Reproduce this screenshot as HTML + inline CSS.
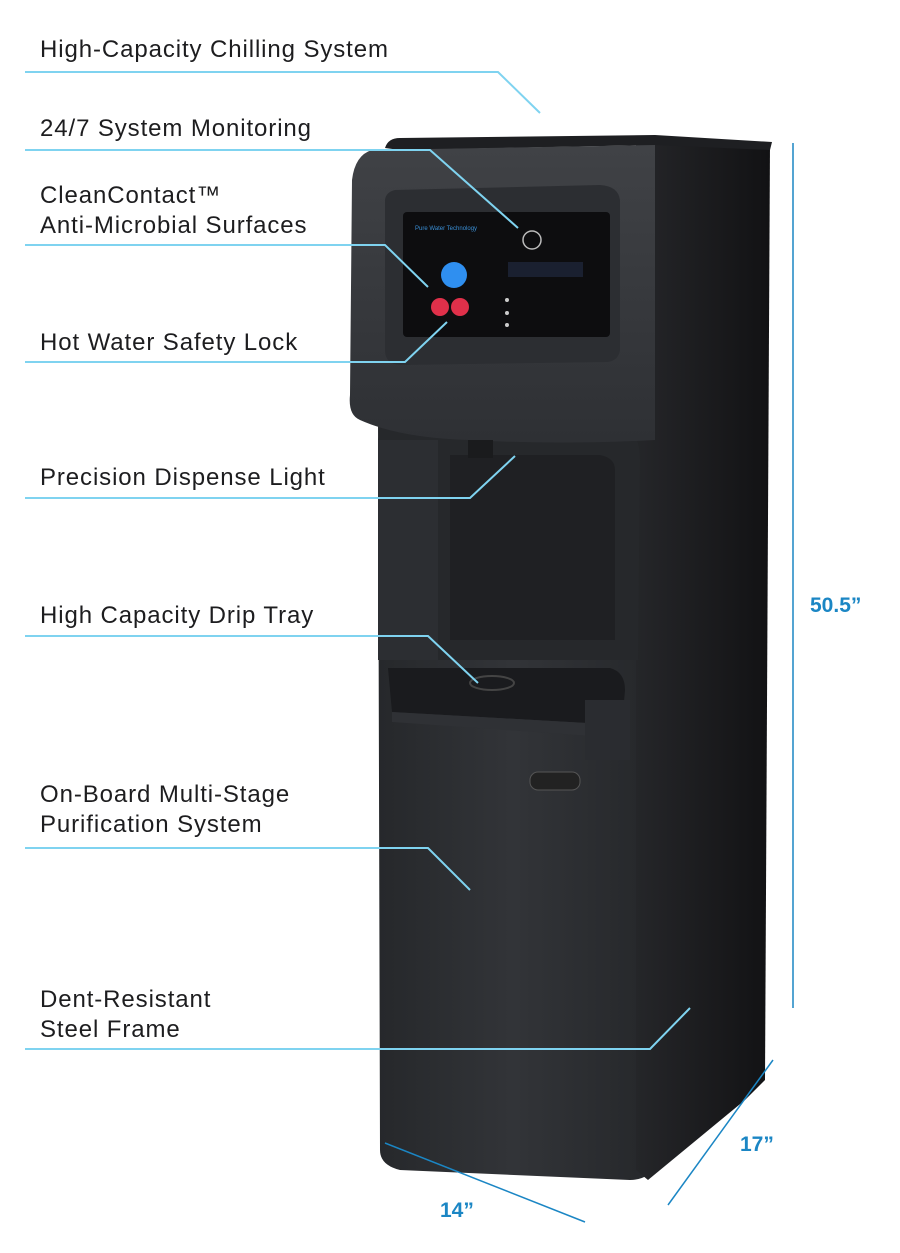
<!DOCTYPE html>
<html><head><meta charset="utf-8"><style>
html,body{margin:0;padding:0;background:#fff;}
body{width:900px;height:1253px;position:relative;overflow:hidden;font-family:"Liberation Sans",sans-serif;}
.t{position:absolute;left:40px;font-size:24px;color:#1d1d1f;line-height:30px;letter-spacing:0.9px;}
.d{position:absolute;font-size:21px;color:#1b86c4;font-weight:bold;}
svg{position:absolute;left:0;top:0;}
</style></head><body>
<svg width="900" height="1253" viewBox="0 0 900 1253">
<defs>
<linearGradient id="side" x1="0" x2="1"><stop offset="0" stop-color="#252629"/><stop offset="1" stop-color="#121214"/></linearGradient>
<linearGradient id="front" x1="0" x2="1"><stop offset="0" stop-color="#26282b"/><stop offset="0.5" stop-color="#323438"/><stop offset="1" stop-color="#26282b"/></linearGradient>
<linearGradient id="head" x1="0" x2="0" y1="0" y2="1"><stop offset="0" stop-color="#404246"/><stop offset="1" stop-color="#2e3034"/></linearGradient>
</defs>
<!-- front body -->
<path d="M378 420 L648 420 L648 1175 Q640 1180 630 1180 L400 1170 Q380 1165 380 1150 Z" fill="url(#front)"/>
<!-- side panel -->
<path d="M636 140 L770 143 L765 1080 L745 1100 L648 1180 L636 1170 Z" fill="url(#side)"/>
<!-- top cap -->
<path d="M385 148 Q388 138 400 138 L655 135 L772 142 L770 150 L655 145 L400 150 Z" fill="#1e1f22"/>
<!-- recess -->
<path d="M378 440 Q380 420 400 420 L620 420 Q640 430 640 460 L638 660 L378 660 Z" fill="#26282b"/>
<path d="M450 455 L600 455 Q615 458 615 470 L615 640 L450 640 Z" fill="#1f2023"/>
<rect x="378" y="440" width="60" height="220" fill="#2c2e32"/>
<!-- head -->
<path d="M372 150 L655 145 L655 440 Q560 445 470 440 Q400 438 360 420 Q348 415 350 395 L352 180 Q355 155 372 150 Z" fill="url(#head)"/>
<path d="M395 190 L600 185 Q618 186 620 200 L620 350 Q618 362 605 362 L400 365 Q385 364 385 350 L385 200 Q386 192 395 190 Z" fill="#2c2e32"/>
<!-- control panel -->
<rect x="403" y="212" width="207" height="125" rx="4" fill="#0d0d0f"/>
<text x="415" y="230" font-size="6" fill="#3a8fd6" font-family="Liberation Sans">Pure Water Technology</text>
<circle cx="454" cy="275" r="13" fill="#2f8ff0"/>
<circle cx="440" cy="307" r="9" fill="#e0304a"/>
<circle cx="460" cy="307" r="9" fill="#e0304a"/>
<rect x="508" y="262" width="75" height="15" fill="#1a2030"/>
<circle cx="532" cy="240" r="9" fill="none" stroke="#bbb" stroke-width="1.5"/>
<circle cx="507" cy="300" r="2" fill="#ccc"/><circle cx="507" cy="313" r="2" fill="#ccc"/><circle cx="507" cy="325" r="2" fill="#ccc"/>
<!-- dispense nozzle -->
<rect x="468" y="440" width="25" height="18" fill="#1a1b1d"/>
<!-- drip tray -->
<path d="M388 668 L610 668 Q625 672 625 690 L622 725 L392 712 Z" fill="#1a1b1e"/>
<ellipse cx="492" cy="683" rx="22" ry="7" fill="none" stroke="#444" stroke-width="2"/>
<path d="M392 712 L622 725 L620 738 L392 722 Z" fill="#2f3135"/>
<rect x="585" y="700" width="45" height="60" fill="#2a2c30"/>
<!-- badge -->
<rect x="530" y="772" width="50" height="18" rx="8" fill="#222" stroke="#555"/>
<!-- callout lines -->
<g fill="none" stroke="#7fd3f0" stroke-width="2">
<polyline points="25,72 498,72 540,113"/>
<polyline points="25,150 430,150 518,228"/>
<polyline points="25,245 385,245 428,287"/>
<polyline points="25,362 405,362 447,322"/>
<polyline points="25,498 470,498 515,456"/>
<polyline points="25,636 428,636 478,683"/>
<polyline points="25,848 428,848 470,890"/>
<polyline points="25,1049 650,1049 690,1008"/>
</g>
<g fill="none" stroke="#1b86c4" stroke-width="1.5">
<line x1="793" y1="143" x2="793" y2="1008"/>
<line x1="773" y1="1060" x2="668" y2="1205"/>
<line x1="385" y1="1143" x2="585" y2="1222"/>
</g>
</svg>
<div class="t" style="top:35px">High-Capacity Chilling System</div>
<div class="t" style="top:114px">24/7 System Monitoring</div>
<div class="t" style="top:181px">CleanContact™<br>Anti-Microbial Surfaces</div>
<div class="t" style="top:328px">Hot Water Safety Lock</div>
<div class="t" style="top:463px">Precision Dispense Light</div>
<div class="t" style="top:601px">High Capacity Drip Tray</div>
<div class="t" style="top:780px">On-Board Multi-Stage<br>Purification System</div>
<div class="t" style="top:985px">Dent-Resistant<br>Steel Frame</div>
<div class="d" style="left:810px;top:594px">50.5”</div>
<div class="d" style="left:740px;top:1133px">17”</div>
<div class="d" style="left:440px;top:1199px">14”</div>
</body></html>
